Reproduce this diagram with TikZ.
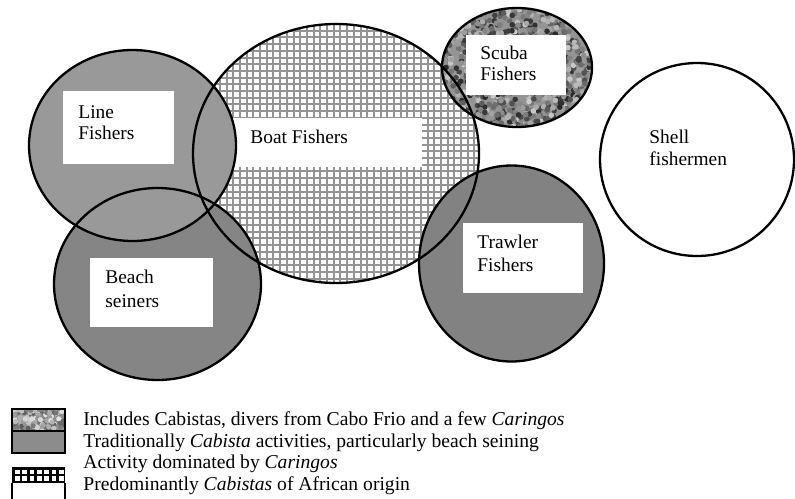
\documentclass[tikz,border=0pt]{standalone}
\usepackage{fontspec}
\setmainfont{Liberation Serif}
\definecolor{lineg}{gray}{0.60}
\definecolor{beachg}{gray}{0.52}
\definecolor{trawlg}{gray}{0.51}
\definecolor{legg}{gray}{0.55}
\definecolor{gridg}{gray}{0.58}
\definecolor{specg}{gray}{0.58}
\begin{document}
\begin{tikzpicture}[x=0.5pt,y=-0.5pt,
  outl/.style={draw=black,line width=1.15pt},
  lbl/.style={anchor=base west,inner sep=0pt,font=\fontsize{9.7}{11}\selectfont},
  leg/.style={anchor=base west,inner sep=0pt,font=\fontsize{9.8}{11}\selectfont},
  gridln/.style={draw=gridg,line width=1pt},
  whitebox/.style={fill=white}]
\useasboundingbox (0,0) rectangle (795,498);

% Boat fishers (grid)
\begin{scope}
  \clip (336,153.5) ellipse [x radius=143,y radius=129.5];
  \fill[white] (190,20) rectangle (482,290);
  \foreach \i in {0,...,43} {\draw[gridln] ({193+\i*6.7},20) -- ({193+\i*6.7},290);}
  \foreach \i in {0,...,40} {\draw[gridln] (190,{24+\i*6.7}) -- (482,{24+\i*6.7});}
  \fill[whitebox] (225,118) rectangle (422,167);
\end{scope}

% Scuba fishers (speckle)
\begin{scope}
  \clip (517,67.5) ellipse [x radius=75,y radius=59.5];
  \fill[specg] (440,5) rectangle (595,130);
  \pgfmathsetseed{11}
  \foreach \i in {1,...,1100} {
    \pgfmathsetmacro\px{517+76*rand}
    \pgfmathsetmacro\py{67.5+61*rand}
    \pgfmathtruncatemacro\gv{20+65*rnd}
    \fill[black!\gv] (\px,\py) circle [radius=1.4pt];
  }
  \fill[whitebox] (466,35) rectangle (566,95);
\end{scope}

% Beach seiners, Line fishers, Trawler fishers
\fill[beachg] (157.5,284) ellipse [x radius=103.5,y radius=96];
\fill[lineg] (132.5,145.5) ellipse [x radius=103.5,y radius=95.5];
\fill[trawlg] (511.5,263.5) ellipse [x radius=92.5,y radius=98];

\fill[whitebox] (63,91) rectangle (174,164);
\fill[whitebox] (90,258) rectangle (213,327);
\fill[whitebox] (463,223) rectangle (583,293);

% outlines
\draw[outl] (336,153.5) ellipse [x radius=143,y radius=129.5];
\draw[outl] (517,67.5) ellipse [x radius=75,y radius=59.5];
\draw[outl] (157.5,284) ellipse [x radius=103.5,y radius=96];
\draw[outl] (132.5,145.5) ellipse [x radius=103.5,y radius=95.5];
\draw[outl] (511.5,263.5) ellipse [x radius=92.5,y radius=98];
\draw[outl] (697,159.5) ellipse [x radius=97,y radius=96.5];

% labels
\node[lbl] (line1) at (78,118) {Line};
\node[lbl] (line2) at (78,139) {Fishers};
\node[lbl] (boat) at (250,143) {Boat Fishers};
\node[lbl] (scuba1) at (480,59) {Scuba};
\node[lbl] (scuba2) at (480,80) {Fishers};
\node[lbl] (shell1) at (649,143) {Shell};
\node[lbl] (shell2) at (649,165) {fishermen};
\node[lbl] (trawl1) at (477,248) {Trawler};
\node[lbl] (trawl2) at (477,271) {Fishers};
\node[lbl] (beach1) at (105,283) {Beach};
\node[lbl] (beach2) at (105,307) {seiners};

% legend swatches
\begin{scope}
  \clip (12,409) rectangle (65,431);
  \fill[specg] (12,409) rectangle (65,431);
  \pgfmathsetseed{5}
  \foreach \i in {1,...,200} {
    \pgfmathsetmacro\px{38.5+28*rand}
    \pgfmathsetmacro\py{420+12*rand}
    \pgfmathtruncatemacro\gv{10+55*rnd}
    \fill[black!\gv] (\px,\py) circle [radius=1.3pt];
  }
\end{scope}
\fill[legg] (12,431) rectangle (65,453);
\draw[black,line width=1.1pt] (12,409) rectangle (65,453);
\draw[black,line width=1.1pt] (12,431) -- (65,431);

\fill[black] (12,467) rectangle (65,483);
\foreach \c in {0,...,6} {
  \foreach \r in {0,1} {
    \fill[white] ({15+\c*7.35},{469.5+\r*6.9}) rectangle ++(4.6,4.4);
  }
}
\draw[black,line width=1.1pt] (12,483) -- (12,500);
\draw[black,line width=1.1pt] (65,483) -- (65,500);

% legend text
\node[leg] (leg1) at (83,425) {Includes Cabistas, divers from Cabo Frio and a few \textit{Caringos}};
\node[leg] (leg2) at (83,447) {Traditionally \textit{Cabista} activities, particularly beach seining};
\node[leg] (leg3) at (83,468.5) {Activity dominated by \textit{Caringos}};
\node[leg] (leg4) at (83,490) {Predominantly \textit{Cabistas} of African origin};
\end{tikzpicture}
\end{document}
